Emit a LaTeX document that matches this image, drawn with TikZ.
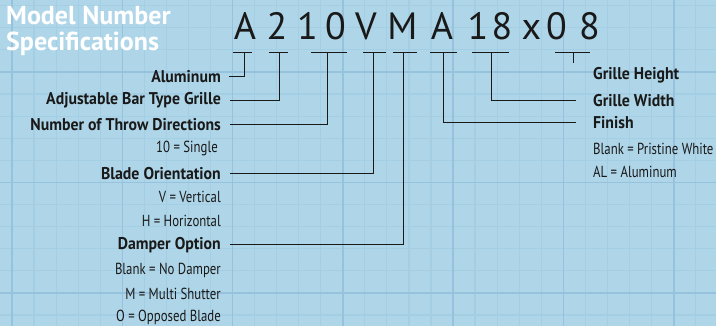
\documentclass[tikz,border=0pt]{standalone}
\usepackage{fontspec}
\setmainfont{PT Sans}
\newfontfamily\lblboldfont[FakeStretch=0.93]{PT Sans Bold}
\newfontfamily\lblregfont[FakeStretch=0.8]{PT Sans}
\definecolor{bgblue}{RGB}{175,214,232}
\definecolor{minorgrid}{RGB}{164,206,227}
\definecolor{majorgrid}{RGB}{150,194,221}
\definecolor{ink}{RGB}{25,25,25}
\begin{document}
\begin{tikzpicture}[x=1pt,y=-1pt,
  title/.style={anchor=base west,inner sep=0,text=white,font=\fontsize{26}{26}\selectfont\bfseries},
  code/.style={anchor=base,inner sep=0,text=ink,font=\fontsize{38}{38}\selectfont},
  lblbold/.style={inner sep=0,text=ink,font=\fontsize{17}{17}\lblboldfont},
  lblreg/.style={inner sep=0,text=ink,font=\fontsize{16}{16}\lblregfont},
  leftlbl/.style={anchor=east},
  rightlbl/.style={anchor=west},
  conn/.style={draw=ink,line width=1pt},
  uline/.style={draw=ink,line width=1pt}]
\useasboundingbox (0,0) rectangle (716,326);
\fill[bgblue] (0,0) rectangle (716,326);
% grid
\foreach \i in {-5,...,32} {
  \draw[minorgrid,line width=1.2pt] ({12+22.05*\i},0) -- ({12+22.05*\i},326);
  \draw[minorgrid,line width=1.2pt] (0,{72+22.1*\i}) -- (716,{72+22.1*\i});
}
\foreach \i in {0,...,6} {
  \draw[majorgrid,line width=1.6pt] ({12+110.3*\i},0) -- ({12+110.3*\i},326);
}
\foreach \i in {0,1,2} {
  \draw[majorgrid,line width=1.6pt] (0,{72+110.5*\i}) -- (716,{72+110.5*\i});
}
% title
\node[title] (t1) at (6,25) {Model Number};
\node[title] (t2) at (6,51) {Specifications};
% code characters
\node[code] (c1) at (245,40) {A};
\node[code] (c2) at (277,40) {2};
\node[code] (c3) at (307.5,40) {1};
\node[code] (c4) at (335.5,40) {0};
\node[code] (c5) at (366,40) {V};
\node[code] (c6) at (402.5,40) {M};
\node[code] (c7) at (442,40) {A};
\node[code] (c8) at (478,40) {1};
\node[code] (c9) at (502,40) {8};
\node[code] (c10) at (531.5,40) {x};
\node[code] (c11) at (556.5,40) {0};
\node[code] (c12) at (589.5,40) {8};
% underline segments
\coordinate (uA1) at (233,53);  \coordinate (uA2) at (252,53);
\coordinate (u21) at (269,53);  \coordinate (u22) at (288,53);
\coordinate (u101) at (311,53); \coordinate (u102) at (347,53);
\coordinate (uV1) at (363,53);  \coordinate (uV2) at (386,53);
\coordinate (uM1) at (393,53);  \coordinate (uM2) at (417,53);
\coordinate (uF1) at (430,53);  \coordinate (uF2) at (457,53);
\coordinate (uW1) at (472,53);  \coordinate (uW2) at (509,53);
\coordinate (uH1) at (555,53);  \coordinate (uH2) at (590,53);
\foreach \a/\b in {uA1/uA2,u21/u22,u101/u102,uV1/uV2,uM1/uM2,uF1/uF2,uW1/uW2,uH1/uH2}
  \draw[uline] (\a) -- (\b);
% tap points
\coordinate (pA) at (244,53);
\coordinate (p2) at (279,53);
\coordinate (p10) at (327,53);
\coordinate (pV) at (373,53);
\coordinate (pM) at (403,53);
\coordinate (pF) at (443,53);
\coordinate (pW) at (491,53);
\coordinate (pH) at (573,53);
\coordinate (pHend) at (573,63);
% left labels
\node[lblbold,leftlbl] (alum) at (221,77) {Aluminum};
\node[lblbold,leftlbl] (adj) at (221,100.5) {Adjustable Bar Type Grille};
\node[lblbold,leftlbl] (throw) at (221,125) {Number of Throw Directions};
\node[lblreg,leftlbl] (single) at (218,149) {10 = Single};
\node[lblbold,leftlbl] (blade) at (221,173.5) {Blade Orientation};
\node[lblreg,leftlbl] (vert) at (221,197) {V = Vertical};
\node[lblreg,leftlbl] (horiz) at (221,221) {H = Horizontal};
\node[lblbold,leftlbl] (damper) at (221,245) {Damper Option};
\node[lblreg,leftlbl] (nodamp) at (221,270) {Blank = No Damper};
\node[lblreg,leftlbl] (multi) at (221,293.5) {M = Multi Shutter};
\node[lblreg,leftlbl] (opposed) at (221,317) {O = Opposed Blade};
% right labels
\node[lblbold,rightlbl] (height) at (593,75) {Grille Height};
\node[lblbold,rightlbl] (width) at (593,100.5) {Grille Width};
\node[lblbold,rightlbl] (finish) at (593,122.5) {Finish};
\node[lblreg,rightlbl] (white) at (593,149) {Blank = Pristine White};
\node[lblreg,rightlbl] (alal) at (593,172) {AL = Aluminum};
% connectors
\draw[conn] (pA) |- ([xshift=8pt]alum.east);
\draw[conn] (p2) |- ([xshift=9pt]adj.east);
\draw[conn] (p10) |- ([xshift=9pt]throw.east);
\draw[conn] (pV) |- ([xshift=9pt]blade.east);
\draw[conn] (pM) |- ([xshift=9pt]damper.east);
\draw[conn] (pF) |- ([xshift=-17pt]finish.west);
\draw[conn] (pW) |- ([xshift=-17pt]width.west);
\draw[conn] (pH) -- (pHend);
\end{tikzpicture}
\end{document}
